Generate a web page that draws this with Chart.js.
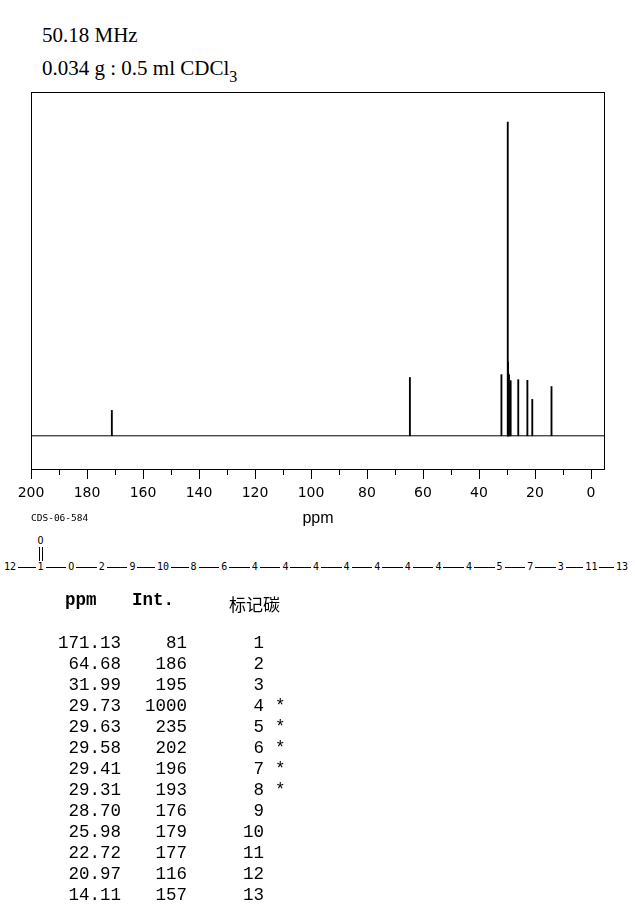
<!DOCTYPE html>
<html>
<head>
<meta charset="utf-8">
<script src="https://cdn.jsdelivr.net/npm/chart.js@4.4.0/dist/chart.umd.min.js"></script>
<style>
  html, body { margin: 0; padding: 0; background: #fff; }
  #page { position: relative; width: 635px; height: 907px; overflow: hidden; color: #000; }
  .hdr { position: absolute; left: 42px; font-family: "Liberation Serif", "Times New Roman", serif; font-size: 21px; line-height: 24px; white-space: nowrap; }
  .hdr .sub { position: relative; top: 7px; font-size: 16px; }
  #chartBox { position: absolute; left: 0; top: 80px; width: 635px; height: 450px; }
  #code { position: absolute; left: 31px; top: 512px; font-family: "DejaVu Sans Mono", monospace; font-size: 9.5px; line-height: 12px; }
  #chain { position: absolute; left: 0; top: 530px; width: 635px; height: 50px; font-family: "DejaVu Sans Mono", monospace; font-size: 10px; }
  #chain .bond { position: absolute; height: 1px; background: #000; }
  #chain .atom { position: absolute; line-height: 12px; background: #fff; padding: 0 2px; transform: translateX(-50%); }
  #chain .dbl { position: absolute; width: 1px; background: #000; }
  #table { position: absolute; left: 0; top: 0; width: 635px; height: 907px; font-family: "Liberation Mono", "Courier New", monospace; font-size: 17.5px; }
  #table .cell { position: absolute; line-height: 21px; white-space: nowrap; }
  #table .th { font-weight: bold; }
  #table .cjk { font-family: "Noto Sans CJK SC", sans-serif; font-size: 17px; font-weight: normal; }
</style>
</head>
<body>
<div id="page">
  <div class="hdr" style="top:23px">50.18 MHz</div>
  <div class="hdr" style="top:56px">0.034 g : 0.5 ml CDCl<span class="sub">3</span></div>
  <div id="chartBox"><canvas id="spec" width="635" height="450"></canvas></div>
  <div id="code">CDS-06-584</div>
  <div id="chain"></div>
  <div id="table"></div>
</div>
<script>
// peak list (ppm, relative intensity)
const shifts = [171.13, 64.68, 31.99, 29.73, 29.63, 29.58, 29.41, 29.31, 28.70, 25.98, 22.72, 20.97, 14.11];
const intensities = [81, 186, 195, 1000, 235, 202, 196, 193, 176, 179, 177, 116, 157];
const carbons = ['1', '2', '3', '4', '5', '6', '7', '8', '9', '10', '11', '12', '13'];
const starred = [false, false, false, true, true, true, true, true, false, false, false, false, false];

// axis
const xMax = 200;
const xMin = -5;
const yMin = -109;
const yMax = 1096;
const xTicks = [200, 180, 160, 140, 120, 100, 80, 60, 40, 20, 0];
const minorTicks = [190, 170, 150, 130, 110, 90, 70, 50, 30, 10];

// structure line
const chainAtoms = ['12', '1', 'O', '2', '9', '10', '8', '6', '4', '4', '4', '4', '4', '4', '4', '4', '5', '7', '3', '11', '13'];

const $ = (id) => document.getElementById(id);

// frame box + major/minor tick marks below the frame
const framePlugin = {
  id: 'frame',
  afterDraw(chart) {
    const { ctx, chartArea: a, scales: { x } } = chart;
    ctx.save();
    ctx.strokeStyle = '#000';
    ctx.lineWidth = 1;
    ctx.strokeRect(a.left + 0.5, a.top + 0.5, a.right - a.left - 1, a.bottom - a.top - 1);
    ctx.beginPath();
    const mark = (v, len) => {
      let px = Math.round(x.getPixelForValue(v)) + 0.5;
      if (px < a.left + 0.5) px = a.left + 0.5;
      ctx.moveTo(px, a.bottom);
      ctx.lineTo(px, a.bottom + len);
    };
    xTicks.forEach(v => mark(v, 9));
    minorTicks.forEach(v => mark(v, 5));
    ctx.stroke();
    ctx.restore();
  }
};

new Chart($('spec'), {
  type: 'bar',
  data: {
    datasets: [
      {
        type: 'bar',
        data: shifts.map((s, i) => ({ x: s, y: intensities[i] })),
        backgroundColor: '#000',
        borderWidth: 0,
        barThickness: 1.2
      },
      {
        type: 'line',
        data: [{ x: xMax, y: 0 }, { x: xMin, y: 0 }],
        borderColor: '#000',
        borderWidth: 1,
        pointRadius: 0
      }
    ]
  },
  options: {
    responsive: false,
    animation: false,
    layout: { padding: { left: 31, right: 30, top: 12, bottom: 2 } },
    plugins: { legend: { display: false }, tooltip: { enabled: false } },
    scales: {
      x: {
        type: 'linear',
        reverse: true,
        min: xMin,
        max: xMax,
        offset: false,
        afterBuildTicks: (scale) => { scale.ticks = xTicks.map(v => ({ value: v })); },
        ticks: { color: '#000', font: { family: 'DejaVu Sans', size: 14 }, padding: 6, maxRotation: 0 },
        grid: { drawOnChartArea: false, drawTicks: true, tickLength: 9, color: 'rgba(0,0,0,0)' },
        border: { display: false },
        title: { display: true, text: 'ppm', color: '#000', font: { family: 'Liberation Sans', size: 16 }, padding: { top: 1, bottom: 0 } }
      },
      y: { display: false, min: yMin, max: yMax }
    }
  },
  plugins: [framePlugin]
});

// structure line
(function () {
  const box = $('chain');
  const lineY = 37; // relative to #chain top (530)
  const cx = (i) => 10 + 30.6 * i;
  const bond = document.createElement('div');
  bond.className = 'bond';
  bond.style.left = cx(0) + 'px';
  bond.style.width = (cx(chainAtoms.length - 1) - cx(0)) + 'px';
  bond.style.top = lineY + 'px';
  box.appendChild(bond);
  chainAtoms.forEach((t, i) => {
    const d = document.createElement('div');
    d.className = 'atom';
    d.textContent = t;
    d.style.left = cx(i) + 'px';
    d.style.top = (lineY - 6) + 'px';
    box.appendChild(d);
  });
  // carbonyl O on atom 1
  const o = document.createElement('div');
  o.className = 'atom';
  o.textContent = 'O';
  o.style.left = cx(1) + 'px';
  o.style.top = '5px';
  box.appendChild(o);
  [-1.5, 1.5].forEach(dx => {
    const l = document.createElement('div');
    l.className = 'dbl';
    l.style.left = (cx(1) + dx) + 'px';
    l.style.top = '17px';
    l.style.height = '14px';
    box.appendChild(l);
  });
})();

// peak table
(function () {
  const t = $('table');
  const add = (text, cls, style) => {
    const d = document.createElement('div');
    d.className = 'cell ' + cls;
    d.textContent = text;
    Object.assign(d.style, style);
    t.appendChild(d);
  };
  add('ppm', 'th', { left: '65px', top: '590px' });
  add('Int.', 'th', { left: '132px', top: '590px' });
  add('标记碳', 'th cjk', { left: '229px', top: '593px' });
  shifts.forEach((s, i) => {
    const top = (632.5 + 21 * i) + 'px';
    add(s.toFixed(2), '', { right: (635 - 121) + 'px', top });
    add(String(intensities[i]), '', { right: (635 - 187) + 'px', top });
    add(carbons[i], '', { right: (635 - 264) + 'px', top });
    if (starred[i]) add('*', '', { left: '275px', top });
  });
})();
</script>
</body>
</html>
